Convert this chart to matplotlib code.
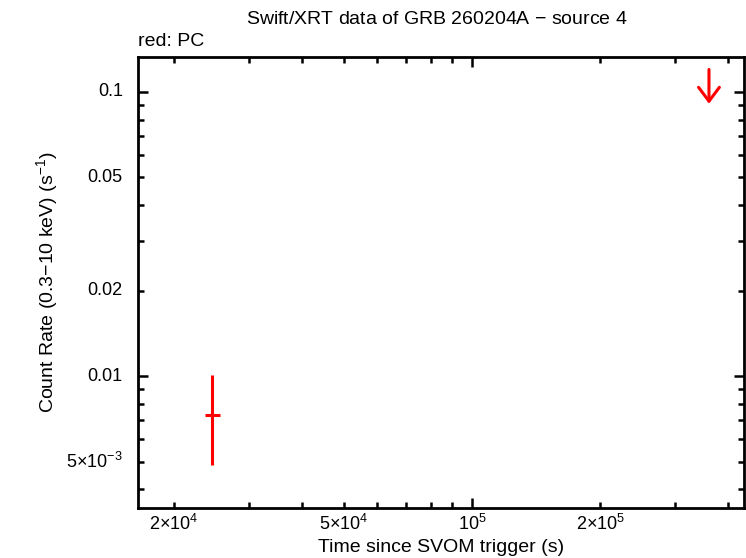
import matplotlib
matplotlib.use("Agg")
import matplotlib.pyplot as plt
from matplotlib.ticker import FixedLocator, NullFormatter

plt.rcParams['font.family'] = ['Liberation Sans', 'DejaVu Sans']
plt.rcParams['mathtext.fontset'] = 'custom'
plt.rcParams['mathtext.rm'] = 'Liberation Sans'
plt.rcParams['mathtext.it'] = 'Liberation Sans:italic'
plt.rcParams['mathtext.bf'] = 'Liberation Sans:bold'

# PC mode detection
pc_time = [2.45e4]
pc_time_lo = [2.36e4]
pc_time_hi = [2.56e4]
pc_rate = [7.28e-3]
pc_rate_lo = [4.85e-3]
pc_rate_hi = [1.01e-2]

# PC mode upper limit
ul_time = [3.6e5]
ul_rate = [0.12]

xticks = [2e4, 5e4, 1e5, 2e5]
xticklabels = [r'$2{\times}10^{4}$', r'$5{\times}10^{4}$', r'$10^{5}$', r'$2{\times}10^{5}$']
yticks = [5e-3, 0.01, 0.02, 0.05, 0.1]
yticklabels = [r'$5{\times}10^{-3}$', '0.01', '0.02', '0.05', '0.1']

fig = plt.figure(figsize=(7.46, 5.58), dpi=100)
ax = fig.add_axes([138/746, 1-508/558, 606/746, 451/558])
ax.set_xscale('log')
ax.set_yscale('log')
ax.set_xlim(1.646e4, 4.35e5)
ax.set_ylim(3.43e-3, 0.1328)

xerr = [[t - lo for t, lo in zip(pc_time, pc_time_lo)],
        [hi - t for t, hi in zip(pc_time, pc_time_hi)]]
yerr = [[r - lo for r, lo in zip(pc_rate, pc_rate_lo)],
        [hi - r for r, hi in zip(pc_rate, pc_rate_hi)]]
ax.errorbar(pc_time, pc_rate, xerr=xerr, yerr=yerr, fmt='none',
            ecolor='red', elinewidth=2.2, capsize=0)

for t, r in zip(ul_time, ul_rate):
    ax.annotate('', xy=(t, r / 1.32), xytext=(t, r),
                arrowprops=dict(arrowstyle='->,head_length=1.0,head_width=0.75',
                                color='red', lw=2.2, shrinkA=0, shrinkB=0,
                                mutation_scale=10))

# ticks
ax.xaxis.set_major_locator(FixedLocator([1e5]))
ax.xaxis.set_major_formatter(NullFormatter())
xminor = [k * 10**e for e in (4, 5) for k in range(2, 10) if 1.646e4 < k * 10**e < 4.35e5]
ax.xaxis.set_minor_locator(FixedLocator(xminor))
ax.xaxis.set_minor_formatter(NullFormatter())
ax.yaxis.set_major_locator(FixedLocator([0.01, 0.1]))
ax.yaxis.set_major_formatter(NullFormatter())
yminor = [k * 10.0**e for e in (-3, -2) for k in range(2, 10) if 3.43e-3 < k * 10.0**e < 0.1328]
ax.yaxis.set_minor_locator(FixedLocator(yminor))
ax.yaxis.set_minor_formatter(NullFormatter())

ax.tick_params(which='both', direction='in', top=True, right=True, width=1.8,
               labelbottom=False, labelleft=False)
ax.tick_params(which='major', length=7.5)
ax.tick_params(which='minor', length=4)
for s in ax.spines.values():
    s.set_linewidth(2.0)

# tick labels as text in axis coordinates
for v, lab in zip(xticks, xticklabels):
    ax.text(v, -0.012, lab, transform=ax.get_xaxis_transform(), ha='center', va='top',
            fontsize=13)
for v, lab in zip(yticks, yticklabels):
    ax.text(-0.025, v, lab, transform=ax.get_yaxis_transform(), ha='right', va='center',
            fontsize=13)

ax.set_xlabel('Time since SVOM trigger (s)', fontsize=14)
ax.xaxis.set_label_coords(0.5, -0.068)
ax.set_ylabel('Count Rate (0.3$-$10 keV) (s$^{-1}$)', fontsize=14)
ax.yaxis.set_label_coords(-0.129, 0.5)

fig.text(437/746, 1-20/558, 'Swift/XRT data of GRB 260204A $-$ source 4',
         ha='center', va='center', fontsize=14)
fig.text(138/746, 1-42/558, 'red: PC', ha='left', va='center', fontsize=14)

fig.savefig('out.png', dpi=100)
